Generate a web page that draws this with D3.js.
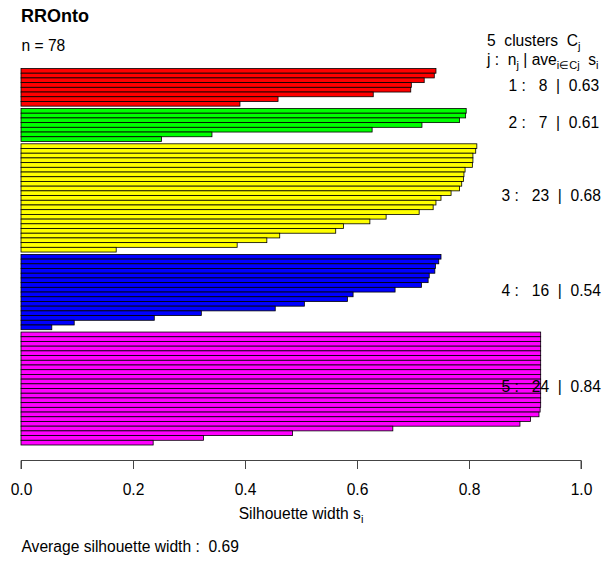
<!DOCTYPE html>
<html>
<head>
<meta charset="utf-8">
<script src="https://cdn.jsdelivr.net/npm/d3@7"></script>
<style>
  body { margin: 0; background: #fff; }
  svg { font-family: "Liberation Sans", Arial, sans-serif; }
  text { white-space: pre; }
</style>
</head>
<body>
<div id="chart"></div>
<script>
const width = 605;
const height = 562;
const fs = 15.6;

// silhouette widths, sorted within each cluster
const cluster1 = [0.741, 0.738, 0.720, 0.697, 0.696, 0.629, 0.459, 0.391];
const cluster2 = [0.795, 0.794, 0.783, 0.716, 0.627, 0.341, 0.251];
const cluster3 = [0.814, 0.812, 0.807, 0.807, 0.806, 0.793, 0.791, 0.790, 0.787,
  0.783, 0.768, 0.750, 0.741, 0.736, 0.711, 0.652, 0.623, 0.576, 0.562, 0.462,
  0.439, 0.386, 0.170];
const cluster4 = [0.750, 0.746, 0.740, 0.739, 0.729, 0.727, 0.715, 0.668, 0.593,
  0.583, 0.506, 0.454, 0.322, 0.238, 0.095, 0.055];
const cluster5 = [0.928, 0.928, 0.928, 0.928, 0.928, 0.928, 0.928, 0.928, 0.928,
  0.928, 0.928, 0.928, 0.928, 0.928, 0.928, 0.928, 0.927, 0.925, 0.910, 0.891,
  0.664, 0.485, 0.326, 0.236];

const clusterIds = [1, 2, 3, 4, 5];
const clusterAvg = ["0.63", "0.61", "0.68", "0.54", "0.84"];
const xTicks = [0, 0.2, 0.4, 0.6, 0.8, 1.0];
const colors = ["#ff0000", "#00ff00", "#ffff00", "#0000ff", "#ff00ff"];

const clusters = [cluster1, cluster2, cluster3, cluster4, cluster5];
const n = d3.sum(clusters, c => c.length);

// bar slots: 1 per bar, 0.5 gap between clusters
let pos = 0;
const rows = [];
const groups = [];
clusters.forEach((c, k) => {
  const start = pos;
  c.forEach(v => { rows.push({ k: k, v: v, y: pos }); pos += 1; });
  groups.push({ k: k, start: start, end: pos, size: c.length });
  pos += 0.5;
});
const total = pos - 0.5;

const x = d3.scaleLinear().domain([0, 1]).range([21, 581]);
const y = d3.scaleLinear().domain([0, total]).range([68.5, 445]);

const svg = d3.select("#chart")
  .append("svg")
  .attr("width", width)
  .attr("height", height);

svg.append("g")
  .selectAll("rect")
  .data(rows)
  .enter()
  .append("rect")
  .attr("x", x(0))
  .attr("y", d => y(d.y))
  .attr("width", d => x(d.v) - x(0))
  .attr("height", y(1) - y(0))
  .attr("fill", d => colors[d.k])
  .attr("stroke", "#000")
  .attr("stroke-width", 0.8);

// x axis, R style
const axis = svg.append("g")
  .attr("transform", "translate(0,460.5)")
  .call(d3.axisBottom(x).tickValues(xTicks).tickSize(8.5).tickPadding(15)
    .tickFormat(d3.format(".1f")));
axis.select(".domain").attr("stroke", "#444").attr("d", `M${x(0)},8.5V0H${x(1)}V8.5`);
axis.selectAll(".tick line").attr("stroke", "#444");
axis.selectAll(".tick text")
  .attr("font-size", fs)
  .attr("font-family", "Liberation Sans, Arial, sans-serif")
  .attr("fill", "#000");

// titles
svg.append("text")
  .attr("x", 21).attr("y", 21.5)
  .attr("font-size", 18).attr("font-weight", "bold")
  .text("RROnto");

svg.append("text")
  .attr("x", 21.5).attr("y", 50.5)
  .attr("font-size", fs)
  .text("n = " + n);

const hdr1 = svg.append("text")
  .attr("x", 487).attr("y", 45.5)
  .attr("font-size", fs);
hdr1.append("tspan").text(clusters.length + "  clusters  C");
hdr1.append("tspan").attr("font-size", 11).attr("dy", 4).text("j");

const hdr2 = svg.append("text")
  .attr("x", 487).attr("y", 64.5)
  .attr("font-size", fs);
hdr2.append("tspan").text("j :  n");
hdr2.append("tspan").attr("font-size", 11).attr("dy", 4).text("j");
hdr2.append("tspan").attr("dy", -4).text(" | ave");
hdr2.append("tspan").attr("font-size", 11).attr("dy", 4).text("i\u2208Cj");
hdr2.append("tspan").attr("dy", -4).text("  s");
hdr2.append("tspan").attr("font-size", 11).attr("dy", 4).text("i");

// per cluster stats, adj = 0.8 at x = 1
svg.append("g")
  .selectAll("text")
  .data(groups)
  .enter()
  .append("text")
  .attr("font-size", fs)
  .attr("y", d => (y(d.start) + y(d.end)) / 2 + 3.5)
  .text(d => `${clusterIds[d.k]} :   ${d.size}  |  ${clusterAvg[d.k]}`)
  .attr("x", function() { return x(1) - 0.8 * this.getComputedTextLength(); });

const xl = svg.append("text")
  .attr("x", (x(0) + x(1)) / 2).attr("y", 519)
  .attr("text-anchor", "middle")
  .attr("font-size", fs);
xl.append("tspan").text("Silhouette width s");
xl.append("tspan").attr("font-size", 11).attr("dy", 4).text("i");

svg.append("text")
  .attr("x", 21.5).attr("y", 552)
  .attr("font-size", fs)
  .text("Average silhouette width :  0.69");
</script>
</body>
</html>
